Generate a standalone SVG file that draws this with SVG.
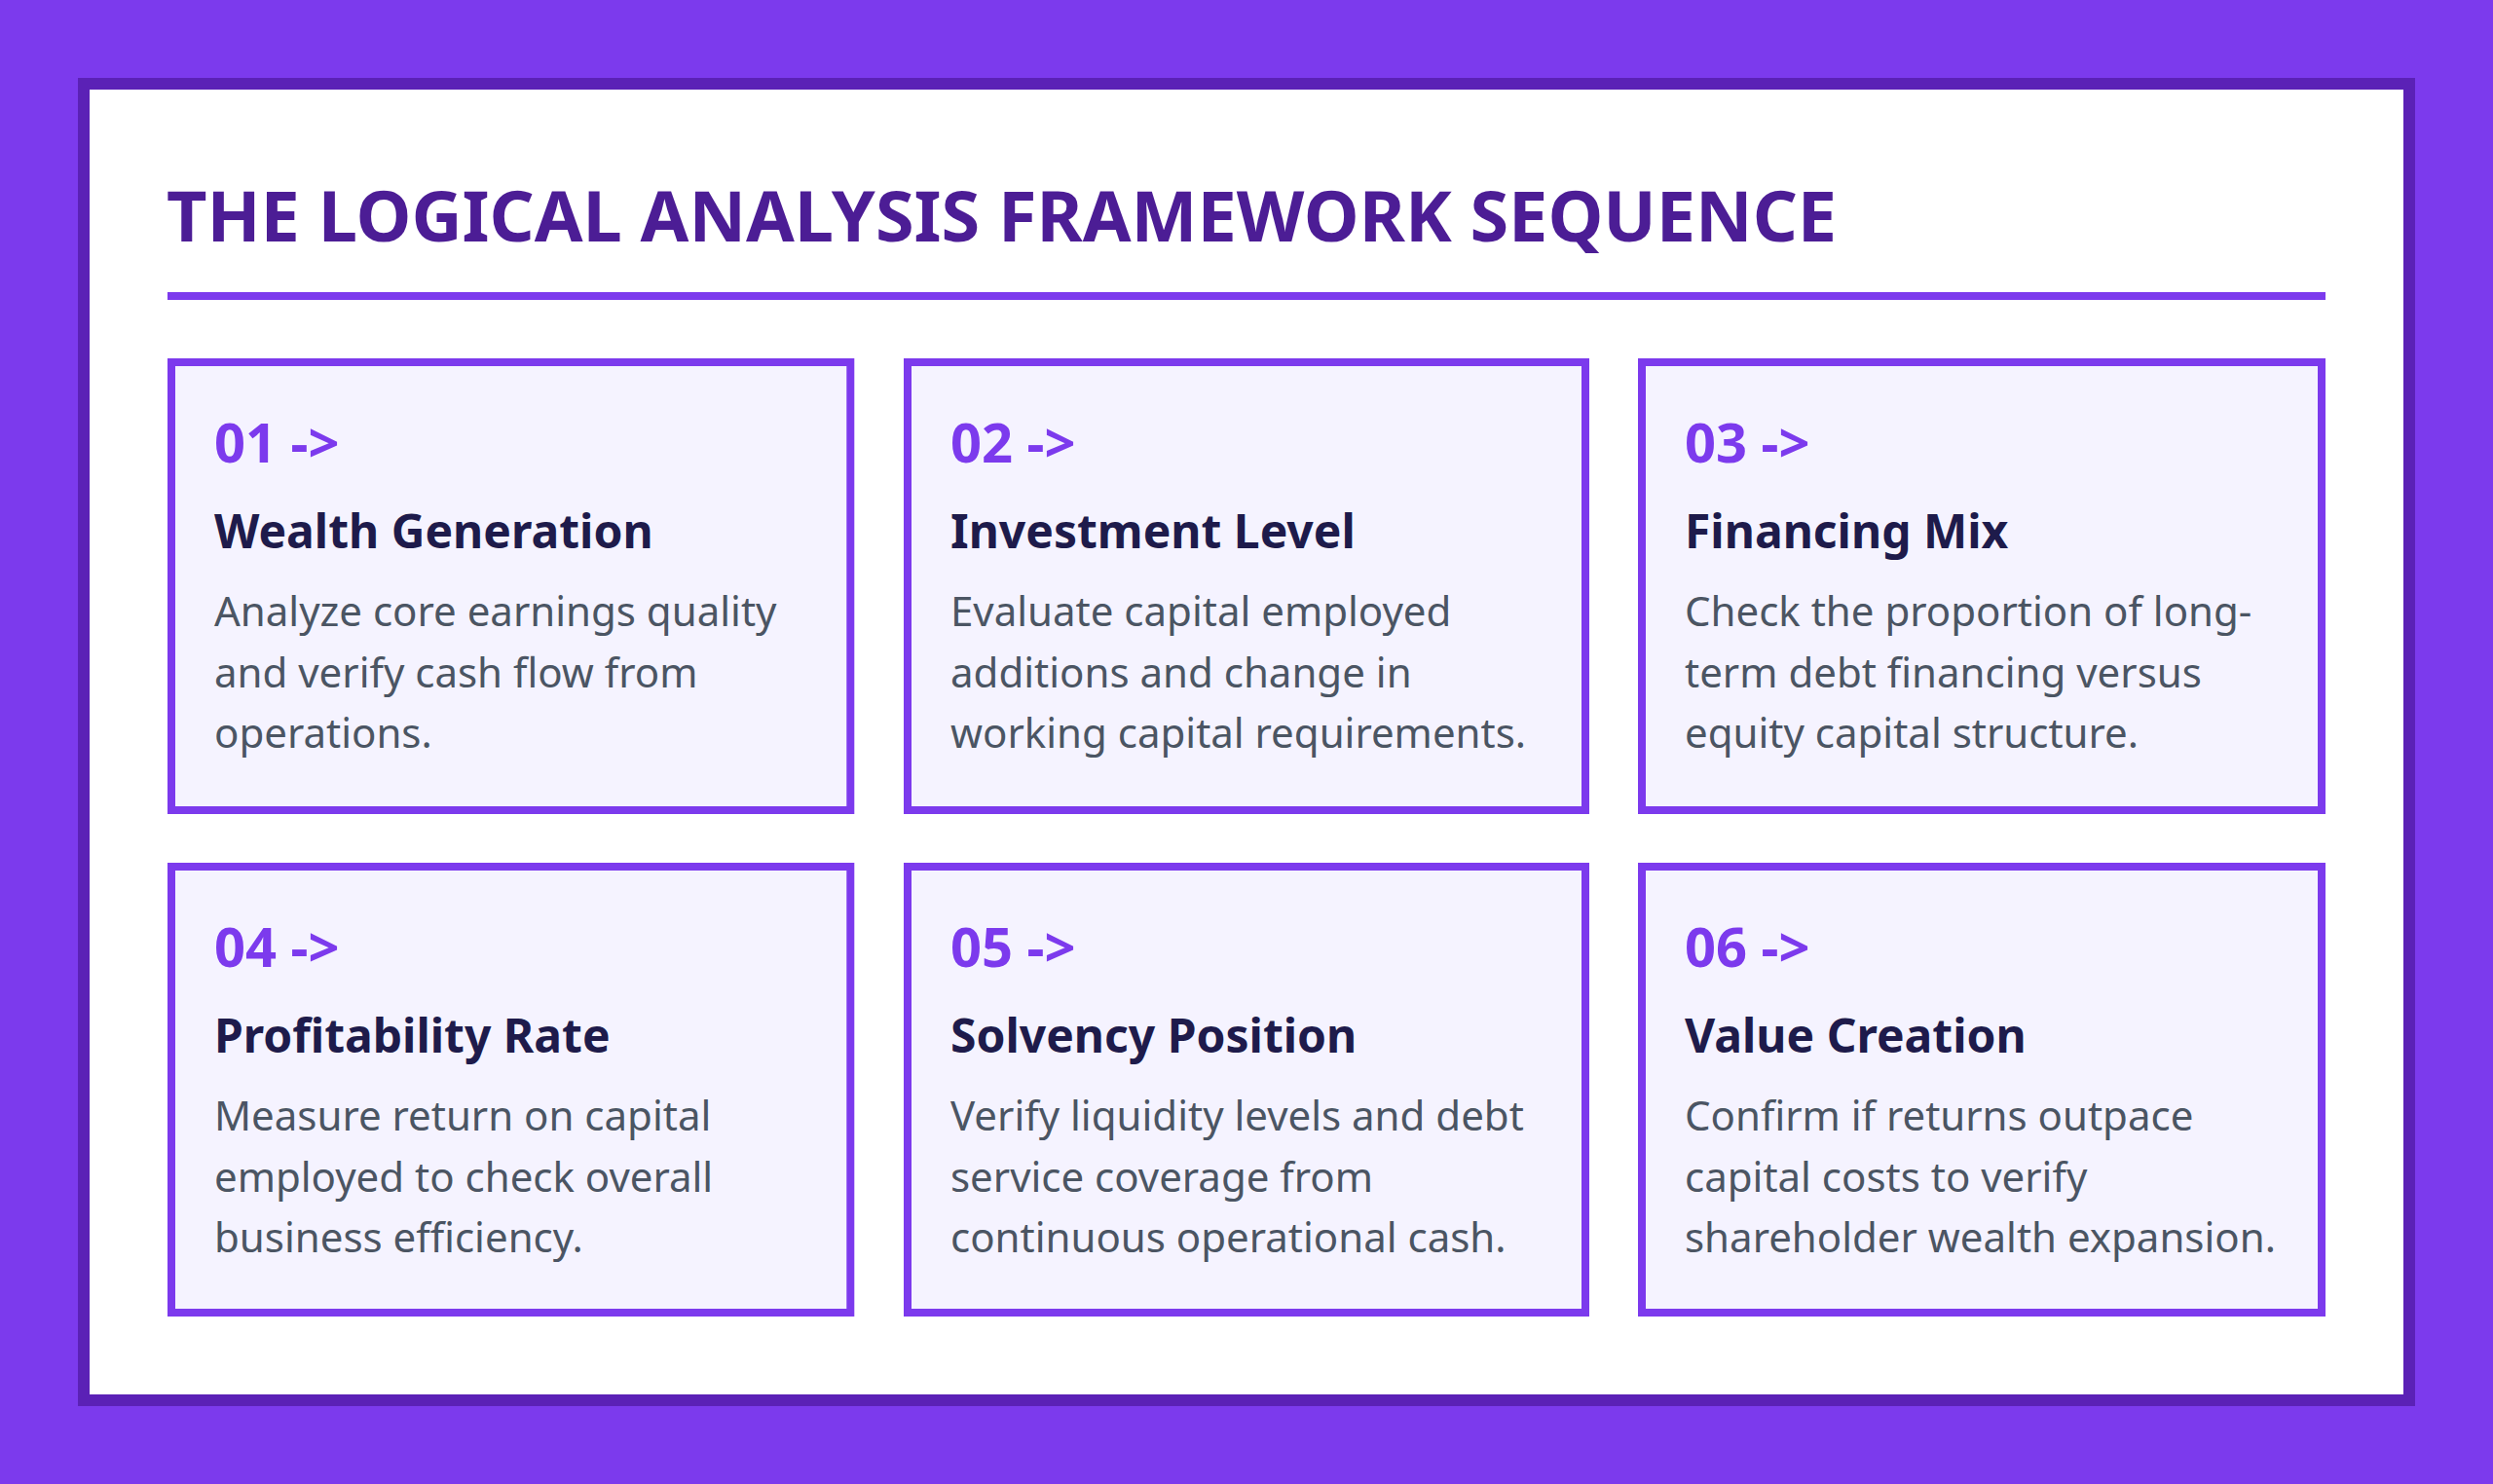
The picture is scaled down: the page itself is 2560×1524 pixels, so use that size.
<svg xmlns="http://www.w3.org/2000/svg" width="2560" height="1524" viewBox="0 0 2560 1524">
<style>
.card{fill:#f5f3ff;stroke:#7c3aed;stroke-width:8}
.num{font-family:"Noto Sans",sans-serif;font-weight:700;font-size:56px;fill:#7c3aed}
.ttl{font-family:"Noto Sans",sans-serif;font-weight:700;font-size:48px;fill:#1e1b4b}
.body{font-family:"Noto Sans",sans-serif;font-weight:400;font-size:42px;fill:#4b5563}
.head{font-family:"Noto Sans",sans-serif;font-weight:700;font-size:72px;fill:#4c1d95}
</style>
<rect x="0" y="0" width="2560" height="1524" fill="#7c3aed"/>
<rect x="86" y="86" width="2388" height="1352" fill="#ffffff" stroke="#5b21b6" stroke-width="12"/>
<g id="header">
<text class="head" x="171" y="248">THE LOGICAL ANALYSIS FRAMEWORK SEQUENCE</text>
<rect x="172" y="300" width="2216" height="8" fill="#7c3aed"/>
</g>
<g id="connectors"></g>
<g id="node-01">
<rect class="card" x="176" y="372" width="697.3" height="460"/>
<text class="num" x="220" y="475">01 -&gt;</text>
<text class="ttl" x="220" y="563">Wealth Generation</text>
<text class="body" x="220" y="643">Analyze core earnings quality</text>
<text class="body" x="220" y="706">and verify cash flow from</text>
<text class="body" x="220" y="768">operations.</text>
</g>
<g id="node-02">
<rect class="card" x="932" y="372" width="696" height="460"/>
<text class="num" x="976" y="475">02 -&gt;</text>
<text class="ttl" x="976" y="563">Investment Level</text>
<text class="body" x="976" y="643">Evaluate capital employed</text>
<text class="body" x="976" y="706">additions and change in</text>
<text class="body" x="976" y="768">working capital requirements.</text>
</g>
<g id="node-03">
<rect class="card" x="1686" y="372" width="698" height="460"/>
<text class="num" x="1730" y="475">03 -&gt;</text>
<text class="ttl" x="1730" y="563">Financing Mix</text>
<text class="body" x="1730" y="643">Check the proportion of long-</text>
<text class="body" x="1730" y="706">term debt financing versus</text>
<text class="body" x="1730" y="768">equity capital structure.</text>
</g>
<g id="node-04">
<rect class="card" x="176" y="890" width="697.3" height="458"/>
<text class="num" x="220" y="993">04 -&gt;</text>
<text class="ttl" x="220" y="1081">Profitability Rate</text>
<text class="body" x="220" y="1161">Measure return on capital</text>
<text class="body" x="220" y="1224">employed to check overall</text>
<text class="body" x="220" y="1286">business efficiency.</text>
</g>
<g id="node-05">
<rect class="card" x="932" y="890" width="696" height="458"/>
<text class="num" x="976" y="993">05 -&gt;</text>
<text class="ttl" x="976" y="1081">Solvency Position</text>
<text class="body" x="976" y="1161">Verify liquidity levels and debt</text>
<text class="body" x="976" y="1224">service coverage from</text>
<text class="body" x="976" y="1286">continuous operational cash.</text>
</g>
<g id="node-06">
<rect class="card" x="1686" y="890" width="698" height="458"/>
<text class="num" x="1730" y="993">06 -&gt;</text>
<text class="ttl" x="1730" y="1081">Value Creation</text>
<text class="body" x="1730" y="1161">Confirm if returns outpace</text>
<text class="body" x="1730" y="1224">capital costs to verify</text>
<text class="body" x="1730" y="1286">shareholder wealth expansion.</text>
</g>
</svg>
